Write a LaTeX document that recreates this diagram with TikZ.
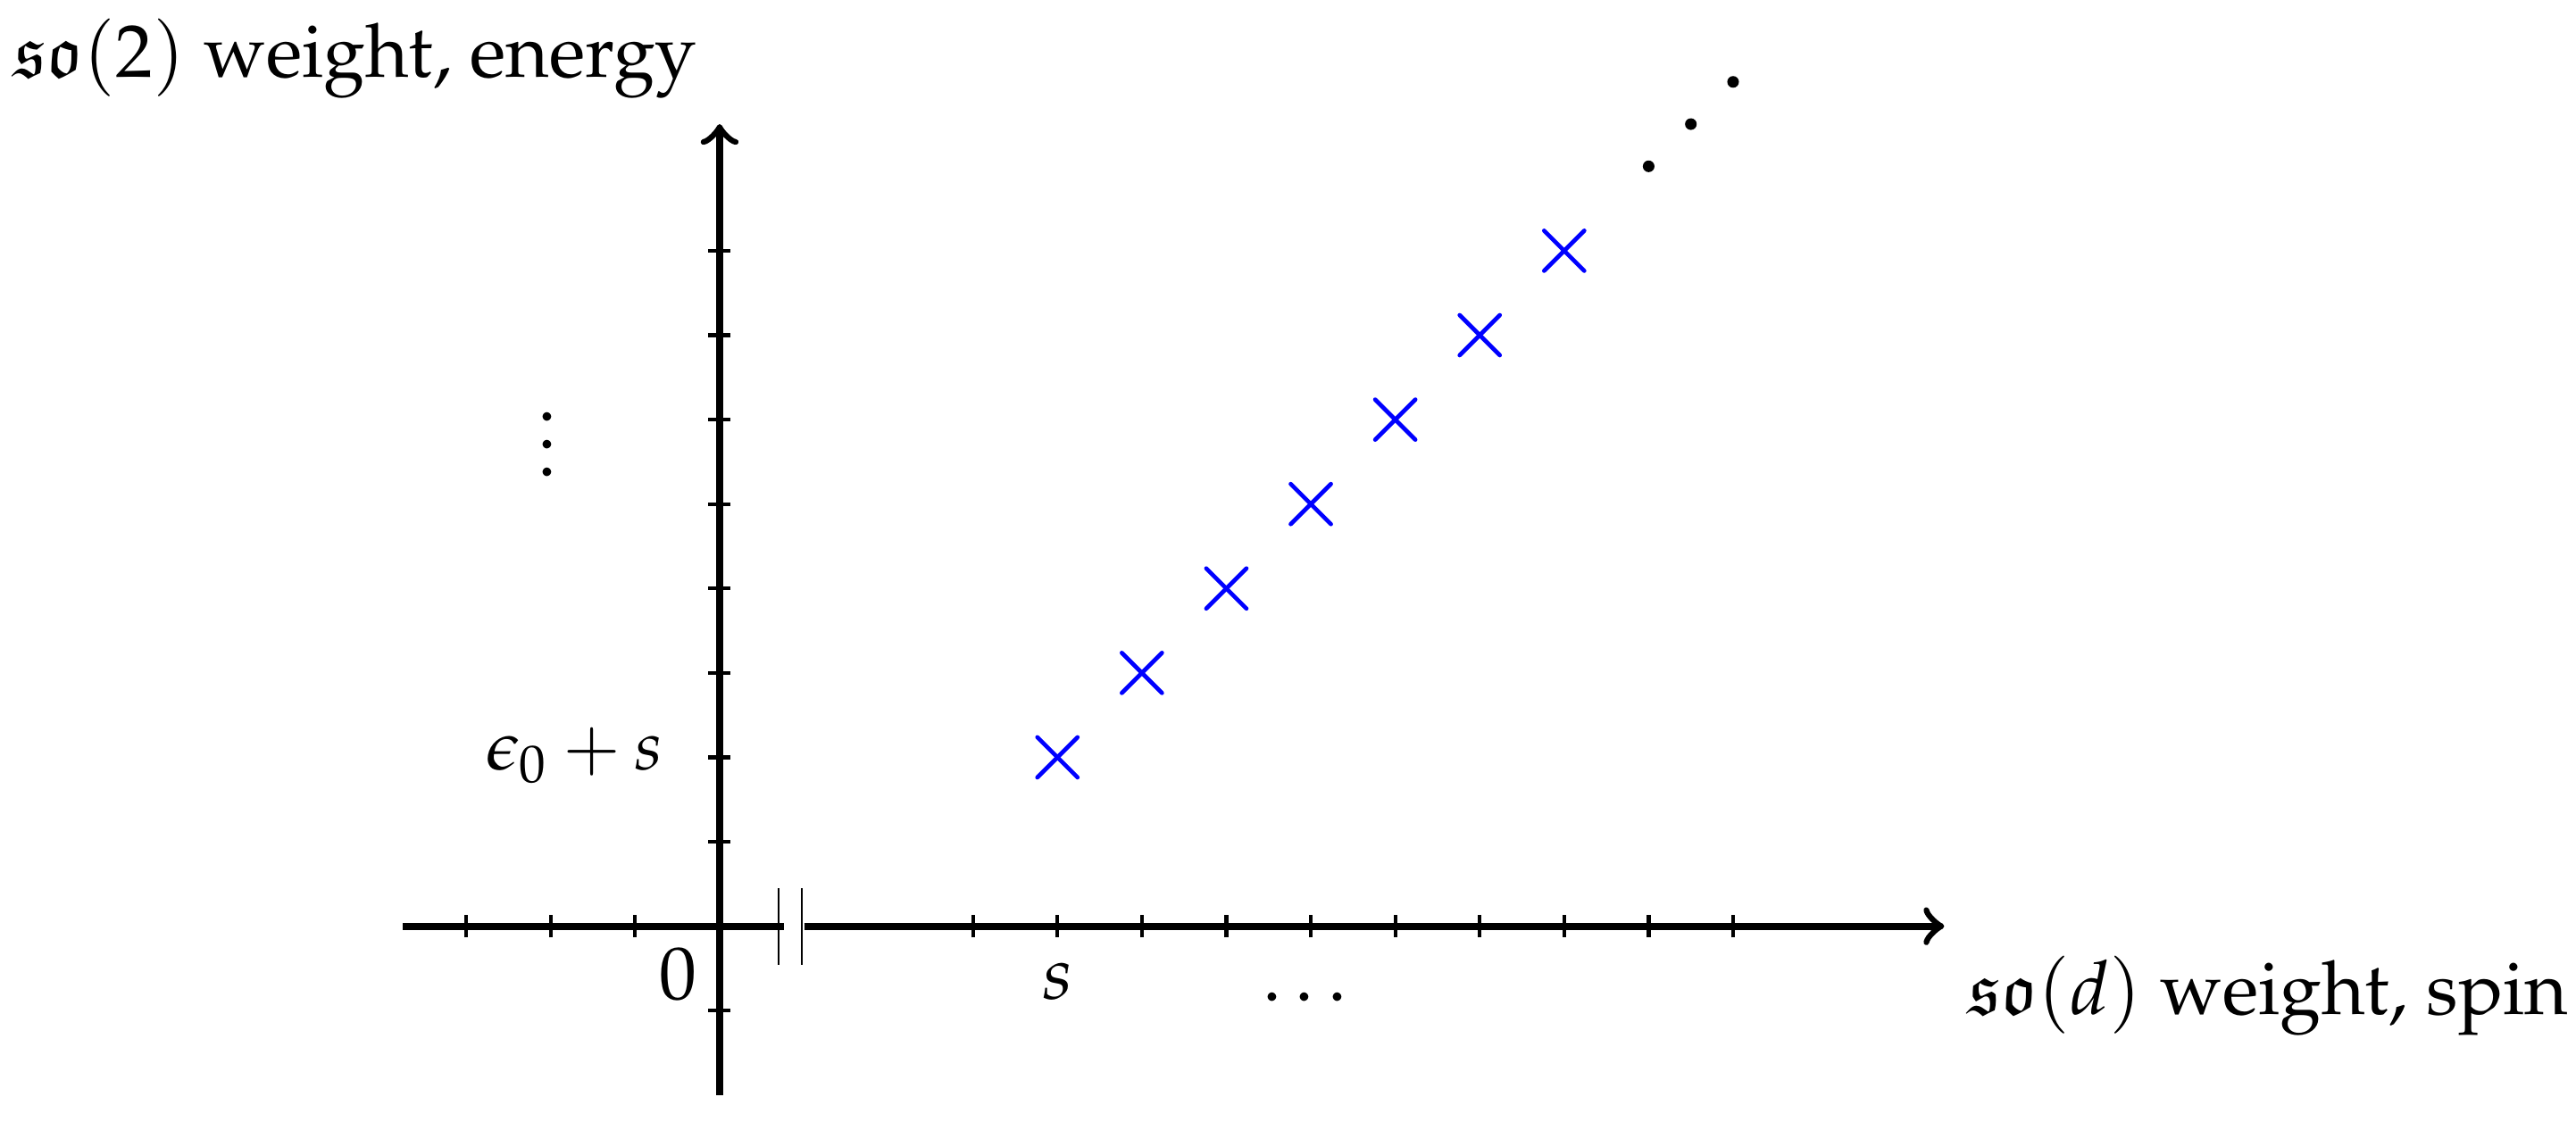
\documentclass[tikz,border=0pt]{standalone}
\usepackage[T1]{fontenc}
\usepackage{mathpazo}
\usepackage{amssymb}
\begin{document}
\fontsize{10.75}{13}\selectfont
\begin{tikzpicture}[x=0.427cm,y=0.427cm,
  axis/.style={line width=1pt},
  tickmark/.style={line width=0.55pt},
  breakmark/.style={line width=0.3pt},
  crossmark/.style={blue, line width=0.6pt, line cap=round},
  lab/.style={inner sep=0pt}]
\useasboundingbox (-8.52,-2.315) rectangle (21.98,10.97);
% axes
\coordinate (xl) at (-3.75,0);
\coordinate (xb1) at (0.76,0);
\coordinate (xb2) at (1.0,0);
\coordinate (xr) at (14.5,0);
\coordinate (yb) at (0,-2);
\coordinate (yt) at (0,9.5);
\draw[axis] (xl) -- (xb1);
\draw[axis,->] (xb2) -- (xr);
\draw[axis,->] (yb) -- (yt);
% break marks
\draw[breakmark] (0.70,-0.455) -- (0.70,0.455);
\draw[breakmark] (0.976,-0.455) -- (0.976,0.455);
% ticks
\foreach \i in {-3,-2,-1,3,4,...,12} \draw[tickmark] (\i,-0.132) -- (\i,0.132);
\foreach \j in {-1,1,2,...,8} \draw[tickmark] (-0.132,\j) -- (0.132,\j);
% crosses
\foreach \k in {0,...,6} {
  \draw[crossmark] (4+\k-0.238,2+\k-0.238) -- (4+\k+0.238,2+\k+0.238);
  \draw[crossmark] (4+\k-0.238,2+\k+0.238) -- (4+\k+0.238,2+\k-0.238);
}
% diagonal dots
\fill (11,9) circle (0.069);
\fill (11.5,9.5) circle (0.069);
\fill (12,10) circle (0.069);
% labels
\node[lab, anchor=base west] (ylab) at (-8.37,10.06) {$\mathfrak{so}(2)$ weight, energy};
\node[lab, anchor=base west] (xlab) at (14.77,-1.05) {$\mathfrak{so}(d)$ weight, spin};
\node[lab, anchor=base] (zero) at (-0.49,-0.87) {$0$};
\node[lab, anchor=base] (slab) at (4,-0.87) {$s$};
\node[lab, anchor=base] (hd) at (6.93,-0.885) {$\dots$};
\node[lab, anchor=base east, font=\fontsize{10}{12}\selectfont] (elab) at (-0.65,1.85) {$\epsilon_0+s$};
\node[lab, anchor=base] (vd) at (-2.04,5.33) {$\vdots$};
\end{tikzpicture}
\end{document}
